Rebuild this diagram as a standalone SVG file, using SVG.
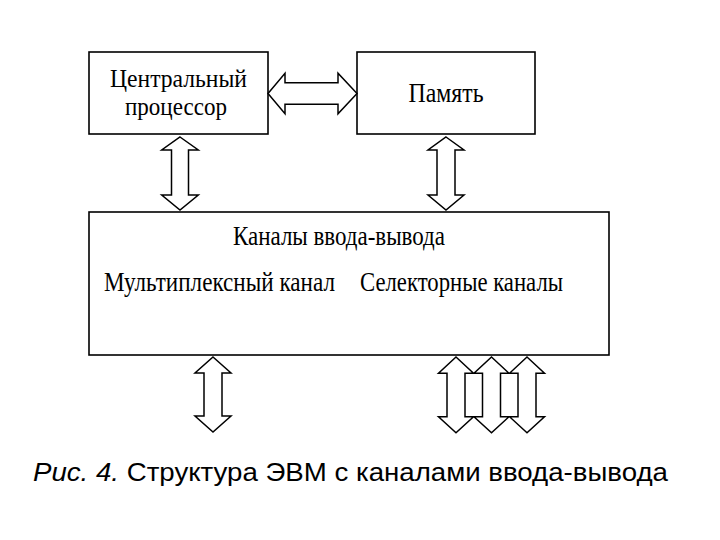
<svg xmlns="http://www.w3.org/2000/svg" width="720" height="540" viewBox="0 0 720 540">
<style>
.box{fill:#fff;stroke:#000;stroke-width:1.6}
.arr{fill:#fff;stroke:#000;stroke-width:1.5;stroke-linejoin:miter}
.t{font-family:"Liberation Serif","Times New Roman",serif;font-size:28px;fill:#000;text-anchor:middle}
.t2{font-size:25.5px}
.cap{font-family:"Liberation Sans",Arial,sans-serif;font-size:26.5px;fill:#000}
</style>
<rect width="720" height="540" fill="#fff"/>
<g id="cpu">
<rect class="box" x="89" y="52" width="179" height="82"/>
<text class="t t2" x="178.5" y="87" textLength="137" lengthAdjust="spacingAndGlyphs">Центральный</text>
<text class="t t2" x="176" y="115" textLength="102" lengthAdjust="spacingAndGlyphs">процессор</text>
</g>
<g id="memory">
<rect class="box" x="357" y="52" width="178" height="82"/>
<text class="t" x="446" y="102" textLength="75" lengthAdjust="spacingAndGlyphs">Память</text>
</g>
<g id="io">
<rect class="box" x="89" y="212" width="520" height="143"/>
<text class="t" x="339" y="245" textLength="212" lengthAdjust="spacingAndGlyphs">Каналы ввода-вывода</text>
<text class="t" x="219.5" y="291" textLength="231" lengthAdjust="spacingAndGlyphs">Мультиплексный канал</text>
<text class="t" x="461.5" y="291" textLength="203" lengthAdjust="spacingAndGlyphs">Селекторные каналы</text>
</g>
<g id="connectors">
<path class="arr" d="M268,93.5 L285,73.2 L285,82.7 L338,82.7 L338,73.2 L357,93.5 L338,113.8 L338,104.3 L285,104.3 L285,113.8 Z"/>
<path class="arr" d="M180,137 L198.3,150 L188.5,150 L188.5,195 L198.3,195 L180,210 L161.7,195 L171.5,195 L171.5,150 L161.7,150 Z"/>
<path class="arr" d="M446,137 L464,150 L455,150 L455,195 L464,195 L446,210 L428,195 L437,195 L437,150 L428,150 Z"/>
<path class="arr" d="M213,357 L231,373 L222,373 L222,416 L231,416 L213,432 L195,416 L204,416 L204,373 L195,373 Z"/>
<path class="arr" d="M456,357 L473.5,373.3 L465,373.3 L465,416.7 L473.5,416.7 L456,432.7 L438.5,416.7 L447,416.7 L447,373.3 L438.5,373.3 Z"/>
<path class="arr" d="M491.5,357 L509,373.3 L500.5,373.3 L500.5,416.7 L509,416.7 L491.5,432.7 L474,416.7 L482.5,416.7 L482.5,373.3 L474,373.3 Z"/>
<path class="arr" d="M527,357 L544.5,373.3 L536,373.3 L536,416.7 L544.5,416.7 L527,432.7 L509.5,416.7 L518,416.7 L518,373.3 L509.5,373.3 Z"/>
</g>
<text class="cap" x="33" y="481" textLength="635" lengthAdjust="spacingAndGlyphs"><tspan font-style="italic">Рис. 4.</tspan> Структура ЭВМ с каналами ввода-вывода</text>
</svg>
